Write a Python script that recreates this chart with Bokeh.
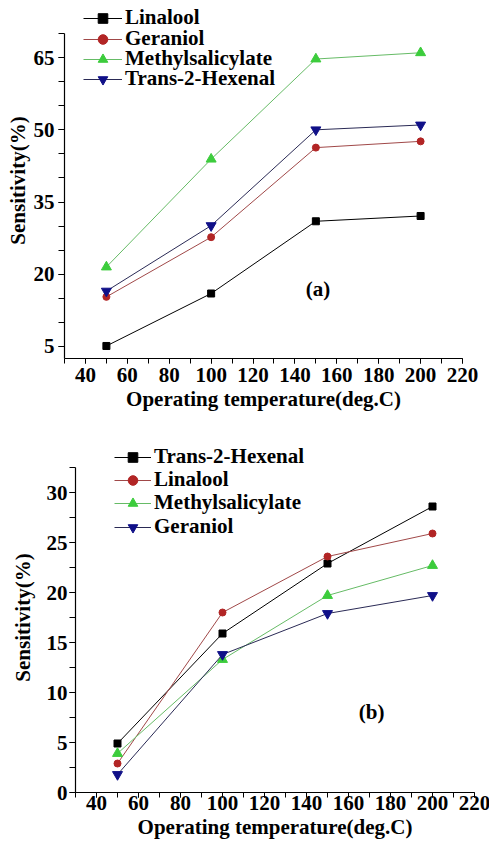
from bokeh.plotting import figure
from bokeh.models import Range1d, FixedTicker, Legend, LegendItem, Label, Spacer
from bokeh.layouts import column, row
from bokeh.embed import file_html
from bokeh.resources import INLINE

# ---------------- data ----------------
temps = [50, 100, 150, 200]

# panel (a)
a_names = ["Linalool", "Geraniol", "Methylsalicylate", "Trans-2-Hexenal"]
a_linalool = [5.1, 16.0, 31.0, 32.1]
a_geraniol = [15.3, 27.7, 46.3, 47.6]
a_methyl = [21.5, 43.9, 64.7, 66.0]
a_hexenal = [16.5, 30.1, 50.0, 51.0]

# panel (b)
b_names = ["Trans-2-Hexenal", "Linalool", "Methylsalicylate", "Geraniol"]
b_hexenal = [4.9, 15.9, 22.9, 28.6]
b_linalool = [2.9, 18.0, 23.6, 25.9]
b_methyl = [3.9, 13.3, 19.7, 22.7]
b_geraniol = [1.8, 13.8, 17.9, 19.7]

x_ticks = [40, 60, 80, 100, 120, 140, 160, 180, 200, 220]
x_minor = [30, 40, 50, 60, 70, 80, 90, 100, 110, 120, 130, 140, 150, 160,
           170, 180, 190, 200, 210, 220]
a_y_ticks = [5, 20, 35, 50, 65]
a_y_minor = [5, 10, 15, 20, 25, 30, 35, 40, 45, 50, 55, 60, 65, 70]
b_y_ticks = [0, 5, 10, 15, 20, 25, 30]
b_y_minor = [0, 2.5, 5, 7.5, 10, 12.5, 15, 17.5, 20, 22.5, 25, 27.5, 30, 32.5]

x_label = "Operating temperature(deg.C)"
y_label = "Sensitivity(%)"

# styles by series slot: (marker, marker colour, line colour, size)
STYLES = [
    ("square", "#000000", "#000000", 7),
    ("circle", "#b22525", "#a04848", 7),
    ("triangle", "#3ccc3c", "#66bb66", 10),
    ("inverted_triangle", "#101088", "#2a2a55", 10),
]

FONT = "Liberation Serif"
FS = "21px"


def make_fig(series, names, y_range, y_bounds, y_ticks, y_minor, top, bottom,
             left, right, frame_w, frame_h, tick_standoff_y, label_standoff_y,
             tick_standoff_x, label_standoff_x, legend_x, legend_ys, glyph_w,
             tag, tag_x, tag_y):
    p = figure(frame_width=frame_w, frame_height=frame_h,
               x_range=Range1d(30, 220), y_range=Range1d(*y_range),
               output_backend="svg", toolbar_location=None,
               min_border_top=top, min_border_bottom=bottom,
               min_border_left=left, min_border_right=right)
    p.outline_line_color = None
    p.xgrid.visible = False
    p.ygrid.visible = False
    p.background_fill_color = "white"
    p.border_fill_color = "white"

    for ax in (p.xaxis[0], p.yaxis[0]):
        ax.axis_line_color = "black"
        ax.axis_line_width = 1.2
        ax.major_tick_in = 0
        ax.major_tick_out = 6
        ax.minor_tick_in = 0
        ax.minor_tick_out = 6
        ax.major_tick_line_color = "black"
        ax.minor_tick_line_color = "black"
        ax.major_label_text_font = FONT
        ax.major_label_text_font_style = "bold"
        ax.major_label_text_font_size = FS
        ax.major_label_text_color = "black"
        ax.axis_label_text_font = FONT
        ax.axis_label_text_font_style = "bold"
        ax.axis_label_text_font_size = FS
        ax.axis_label_text_color = "black"

    p.xaxis[0].major_tick_out = 5
    p.xaxis[0].minor_tick_out = 5
    p.xaxis[0].ticker = FixedTicker(ticks=x_ticks, minor_ticks=x_minor)
    p.yaxis[0].ticker = FixedTicker(ticks=y_ticks, minor_ticks=y_minor)
    p.yaxis[0].bounds = y_bounds
    p.xaxis[0].axis_label = x_label
    p.yaxis[0].axis_label = y_label
    p.yaxis[0].major_label_standoff = tick_standoff_y
    p.yaxis[0].axis_label_standoff = label_standoff_y
    p.xaxis[0].major_label_standoff = tick_standoff_x
    p.xaxis[0].axis_label_standoff = label_standoff_x

    for i, (vals, name) in enumerate(zip(series, names)):
        marker, mcol, lcol, size = STYLES[i]
        lr = p.line(temps, vals, line_color=lcol, line_width=1)
        sr = p.scatter(temps, vals, marker=marker, size=size,
                       fill_color=mcol, line_color=mcol)
        lg = Legend(items=[LegendItem(label=name, renderers=[lr, sr])],
                    location=(legend_x, legend_ys[i]),
                    glyph_width=glyph_w, glyph_height=24, label_height=24,
                    spacing=0, padding=0, margin=0, label_standoff=3,
                    border_line_alpha=0, background_fill_alpha=0,
                    label_text_font=FONT, label_text_font_style="bold",
                    label_text_font_size=FS, label_text_color="black")
        p.add_layout(lg)

    p.add_layout(Label(x=tag_x, y=tag_y, text=tag, text_font=FONT,
                       text_font_style="bold", text_font_size=FS,
                       text_align="center", text_baseline="middle",
                       text_color="black"))
    return p


# panel (a): 4.815 px per unit; frame extended upward so the legend fits
p1 = make_fig([a_linalool, a_geraniol, a_methyl, a_hexenal], a_names,
              (2.5, 76.44), (2.5, 70), a_y_ticks, a_y_minor,
              top=2, bottom=58, left=64, right=27,
              frame_w=398, frame_h=356,
              tick_standoff_y=4, label_standoff_y=1,
              tick_standoff_x=4, label_standoff_x=2,
              legend_x=19, legend_ys=[328, 307, 287, 267], glyph_w=39,
              tag="(a)", tag_x=151, tag_y=17)

# panel (b): 10 px per unit
p2 = make_fig([b_hexenal, b_linalool, b_methyl, b_geraniol], b_names,
              (0, 35), (0, 32.5), b_y_ticks, b_y_minor,
              top=26, bottom=52, left=64, right=19,
              frame_w=399, frame_h=350,
              tick_standoff_y=2, label_standoff_y=9,
              tick_standoff_x=-2, label_standoff_x=2,
              legend_x=39, legend_ys=[323, 300, 277, 253], glyph_w=37,
              tag="(b)", tag_x=171, tag_y=8.1)

layout = column(p1, row(Spacer(width=7, height=10), p2, spacing=0), spacing=0)
open("out.html", "w").write(file_html(layout, INLINE))
